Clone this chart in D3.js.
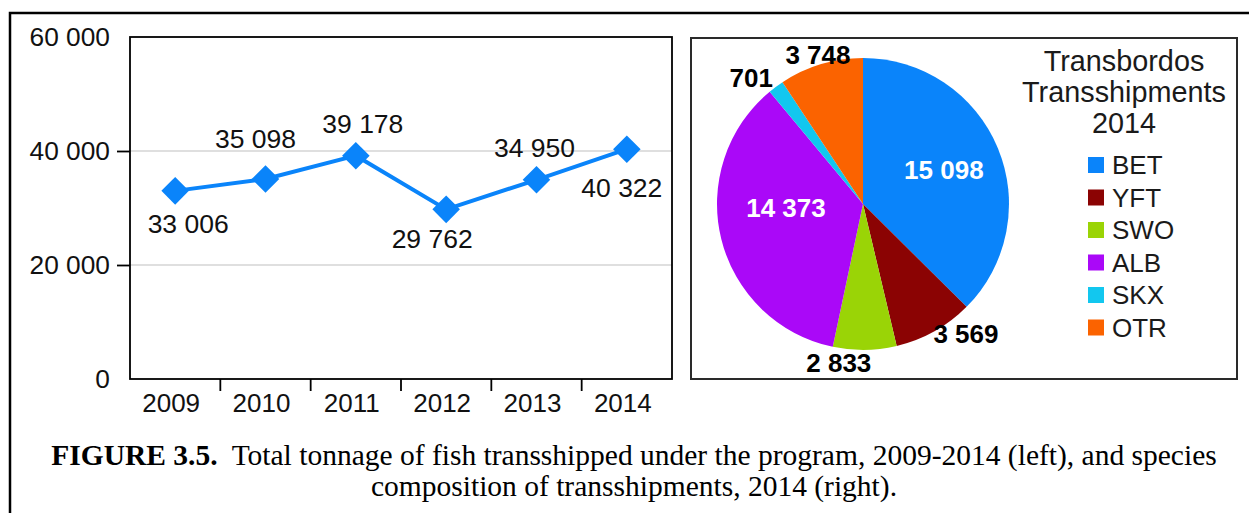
<!DOCTYPE html>
<html>
<head>
<meta charset="utf-8">
<script src="https://cdn.jsdelivr.net/npm/d3@7"></script>
<style>
  body { margin: 0; background: #fff; }
  text { font-family: "Liberation Sans", Arial, sans-serif; }
</style>
</head>
<body>
<script>
// data
const years = ["2009", "2010", "2011", "2012", "2013", "2014"];
const tonnage = [33006, 35098, 39178, 29762, 34950, 40322];
const yTicks = [0, 20000, 40000, 60000];

const species = ["BET", "YFT", "SWO", "ALB", "SKX", "OTR"];
const catch2014 = [15098, 3569, 2833, 14373, 701, 3748];
const speciesColors = ["#0a84fa", "#8b0303", "#9ad406", "#aa08f8", "#12c7ef", "#fb6300"];
const legendTitle = ["Transbordos", "Transshipments", "2014"];

// label placement for the line chart (offset from the point, px)
const lineLabelPos = [[13, 42], [-10, -31], [7, -23], [-14, 39], [-2, -23], [-5, 48]];
// pie labels: inside or on the edge, then nudged
const pieLabelPos = [
  {r: 0.6, dx: 0, dy: 9, anchor: "middle", fill: "#fff"},
  {r: 1, dx: -1, dy: 12, anchor: "start", fill: "#000"},
  {r: 1, dx: -26, dy: 22, anchor: "middle", fill: "#000"},
  {r: 0.6, dx: 8, dy: -8, anchor: "middle", fill: "#fff"},
  {r: 1, dx: -3, dy: 0, anchor: "end", fill: "#000"},
  {r: 1, dx: -3, dy: 0, anchor: "middle", fill: "#000"}
];

const W = 1249, H = 513;
const svg = d3.select("body").append("svg")
    .attr("width", W)
    .attr("height", H);

// outer frame (top and left only are visible)
svg.append("path")
    .attr("d", "M10,513V13H1249")
    .attr("fill", "none")
    .attr("stroke", "#000")
    .attr("stroke-width", 2.5);

// ---------- line chart ----------
const plot = {left: 130, right: 672, top: 37, bottom: 379};
const x = d3.scaleBand().domain(years).range([plot.left, plot.right]);
const y = d3.scaleLinear().domain([0, 60000]).range([plot.bottom, plot.top]);
const fmt = v => d3.format(",")(v).replace(/,/g, " ");

const g = svg.append("g");

g.selectAll("line.grid")
    .data([20000, 40000])
    .enter().append("line")
    .attr("x1", plot.left).attr("x2", plot.right)
    .attr("y1", d => y(d)).attr("y2", d => y(d))
    .attr("stroke", "#d4d4d4")
    .attr("stroke-width", 1.5);

g.append("rect")
    .attr("x", plot.left).attr("y", plot.top)
    .attr("width", plot.right - plot.left)
    .attr("height", plot.bottom - plot.top)
    .attr("fill", "none")
    .attr("stroke", "#000")
    .attr("stroke-width", 1.8);

const yAxis = g.append("g")
    .attr("transform", `translate(${plot.left},0)`)
    .call(d3.axisLeft(y).tickValues(yTicks).tickSize(13).tickPadding(7).tickFormat(fmt));
yAxis.select(".domain").remove();
yAxis.selectAll(".tick line")
    .attr("stroke", "#000")
    .attr("stroke-width", 1.8)
    .attr("opacity", d => (d === 0 || d === 60000) ? 0 : 1);
yAxis.selectAll(".tick text")
    .attr("font-size", 26.3)
    .attr("fill", "#111");

// category separators on the x axis
g.selectAll("line.xtick")
    .data(years.slice(1))
    .enter().append("line")
    .attr("x1", d => x(d)).attr("x2", d => x(d))
    .attr("y1", plot.bottom).attr("y2", plot.bottom + 12)
    .attr("stroke", "#000")
    .attr("stroke-width", 1.8);

g.selectAll("text.xlab")
    .data(years)
    .enter().append("text")
    .attr("x", d => x(d) + x.bandwidth() / 2 - 4)
    .attr("y", plot.bottom + 33)
    .attr("text-anchor", "middle")
    .attr("font-size", 26)
    .attr("fill", "#111")
    .text(d => d);

const pts = years.map((yr, i) => [x(yr) + x.bandwidth() / 2, y(tonnage[i])]);

g.append("path")
    .datum(pts)
    .attr("d", d3.line())
    .attr("fill", "none")
    .attr("stroke", "#0a84fa")
    .attr("stroke-width", 4);

g.selectAll("path.marker")
    .data(pts)
    .enter().append("path")
    .attr("d", d3.symbol().type(d3.symbolSquare).size(380))
    .attr("transform", d => `translate(${d[0]},${d[1]}) rotate(45)`)
    .attr("fill", "#0a84fa");

g.selectAll("text.val")
    .data(pts)
    .enter().append("text")
    .attr("x", (d, i) => d[0] + lineLabelPos[i][0])
    .attr("y", (d, i) => d[1] + lineLabelPos[i][1])
    .attr("text-anchor", "middle")
    .attr("font-size", 26.5)
    .attr("fill", "#111")
    .text((d, i) => fmt(tonnage[i]));

// ---------- pie chart ----------
svg.append("rect")
    .attr("x", 691).attr("y", 38)
    .attr("width", 546).attr("height", 341)
    .attr("fill", "none")
    .attr("stroke", "#2a2a2a")
    .attr("stroke-width", 2);

const R = 146;
const pg = svg.append("g").attr("transform", "translate(863,204)");
const pie = d3.pie().sort(null).value(d => d)(catch2014);
const arc = d3.arc().innerRadius(0).outerRadius(R);

pg.selectAll("path")
    .data(pie)
    .enter().append("path")
    .attr("d", arc)
    .attr("fill", (d, i) => speciesColors[i]);

pg.selectAll("text")
    .data(pie)
    .enter().append("text")
    .each(function(d, i) {
      const p = pieLabelPos[i];
      const a = (d.startAngle + d.endAngle) / 2;
      const r = R * p.r;
      d3.select(this)
        .attr("x", r * Math.sin(a) + p.dx)
        .attr("y", -r * Math.cos(a) + p.dy)
        .attr("text-anchor", p.anchor)
        .attr("fill", p.fill);
    })
    .attr("font-size", 26)
    .attr("font-weight", "bold")
    .text(d => fmt(d.value));

// legend
const lg = svg.append("g");
lg.selectAll("text.title")
    .data(legendTitle)
    .enter().append("text")
    .attr("x", 1124)
    .attr("y", (d, i) => 71 + i * 31)
    .attr("text-anchor", "middle")
    .attr("font-size", 28.8)
    .attr("fill", "#1a1a1a")
    .text(d => d);

const items = lg.selectAll("g.item")
    .data(species)
    .enter().append("g")
    .attr("transform", (d, i) => `translate(1088,${165 + i * 32.5})`);
items.append("rect")
    .attr("x", 0).attr("y", -8)
    .attr("width", 16).attr("height", 16)
    .attr("fill", (d, i) => speciesColors[i]);
items.append("text")
    .attr("x", 24).attr("y", 9)
    .attr("font-size", 26)
    .attr("fill", "#1a1a1a")
    .text(d => d);

// ---------- caption ----------
const cap = svg.append("g")
    .attr("font-size", 29.5)
    .attr("fill", "#000");
const c1 = cap.append("text")
    .attr("x", 634).attr("y", 465)
    .attr("text-anchor", "middle")
    .style("font-family", "'Liberation Serif', 'Times New Roman', serif");
c1.append("tspan").attr("font-weight", "bold").text("FIGURE 3.5.");
c1.append("tspan").attr("dx", 14).text("Total tonnage of fish transshipped under the program, 2009-2014 (left), and species");
cap.append("text")
    .attr("x", 634).attr("y", 496)
    .attr("text-anchor", "middle")
    .style("font-family", "'Liberation Serif', 'Times New Roman', serif")
    .text("composition of transshipments, 2014 (right).");
</script>
</body>
</html>
